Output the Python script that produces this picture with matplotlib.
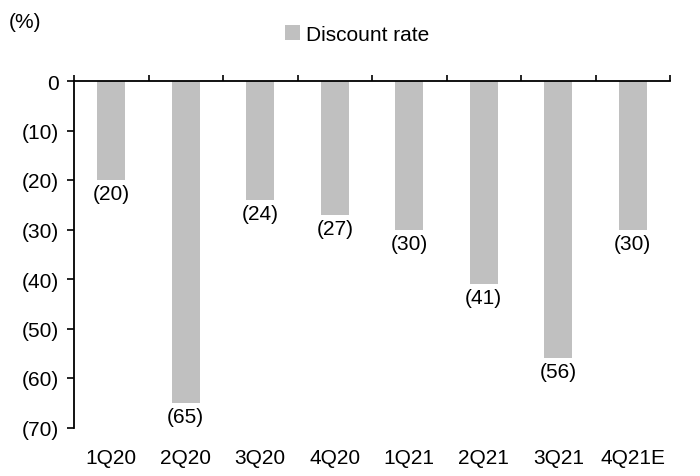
import numpy as np
import matplotlib.pyplot as plt
from matplotlib.ticker import FixedLocator

plt.rcParams['font.family'] = ['Liberation Sans', 'DejaVu Sans']
plt.rcParams['font.size'] = 15

# Quarterly discount rate (%)
quarters = ['1Q20', '2Q20', '3Q20', '4Q20', '1Q21', '2Q21', '3Q21', '4Q21E']
discount = [-20, -65, -24, -27, -30, -41, -56, -30]
yticks = [0, -10, -20, -30, -40, -50, -60, -70]

def paren(v):
    return '0' if v == 0 else '(%d)' % abs(v)

fig = plt.figure(figsize=(7, 4.77), dpi=100)
# axes box: left spine x=74, zero line y=82, bottom y=428.5
ax = fig.add_axes([74 / 700, 1 - 428.5 / 477, 596 / 700, 346.5 / 477])

x = np.arange(len(quarters))
ax.bar(x, discount, width=0.38, color='#c0c0c0', label='Discount rate')

for xi, v in zip(x, discount):
    ax.annotate(paren(v), (xi, v), xytext=(0, -3), textcoords='offset points',
                ha='center', va='top')

ax.set_xlim(-0.5, len(quarters) - 0.5)
ax.set_ylim(-70, 0)
ax.set_yticks(yticks)
ax.set_yticklabels([paren(v) for v in yticks])

# Category labels at the bottom, boundary ticks on the zero line
ax.set_xticks(x)
ax.set_xticklabels(quarters)
ax.tick_params(axis='x', which='major', length=0, pad=15)
ax.xaxis.set_minor_locator(FixedLocator(np.arange(-0.5, len(quarters), 1.0)))
ax.tick_params(axis='x', which='minor', bottom=False, top=True, direction='out', length=4, width=1.2)
ax.tick_params(axis='y', direction='out', length=5, width=1.2, pad=6)

for s in ['right', 'bottom']:
    ax.spines[s].set_visible(False)
ax.spines['top'].set_linewidth(1.3)
ax.spines['left'].set_linewidth(1.3)

fig.text(0.012, 0.952, '(%)', ha='left', va='center')
ax.legend(loc='center', bbox_to_anchor=(0.475, 1.135), frameon=False,
          handlelength=0.7, handleheight=0.7, handletextpad=0.3)

fig.savefig('out.png', dpi=100)
